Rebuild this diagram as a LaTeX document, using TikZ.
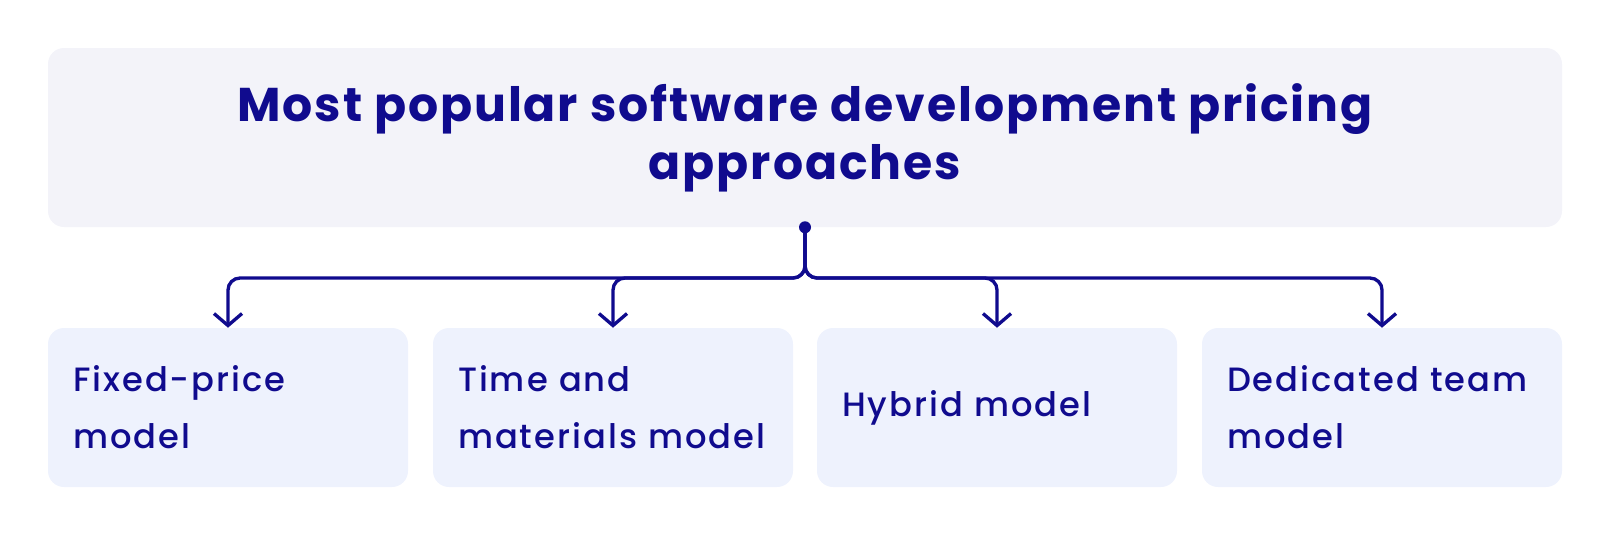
\documentclass[tikz,border=0pt]{standalone}
\usepackage{fontspec}
\setmainfont{Poppins}
\newfontfamily\titlefont{Poppins}[LetterSpace=4,BoldFont={Poppins Bold}]
\newfontfamily\itemfont{Poppins Medium}[LetterSpace=6]
\usetikzlibrary{arrows.meta}
\definecolor{ink}{HTML}{100B8E}
\definecolor{topfill}{HTML}{F3F3F9}
\definecolor{boxfill}{HTML}{EEF2FD}
\tikzset{
  titlebox/.style={fill=topfill, rounded corners=12pt, minimum width=1135.5pt, minimum height=134.25pt, inner sep=0pt, align=center, text=ink, font=\titlefont\fontsize{35.5}{43.5}\selectfont\bfseries},
  itembox/.style={fill=boxfill, rounded corners=12pt, minimum width=270pt, minimum height=119.25pt, inner xsep=18.75pt, inner ysep=0pt, text width=232.5pt, align=left, text=ink, font=\itemfont\fontsize{25.3}{42.75}\selectfont},
  conn/.style={draw=ink, line width=2.5pt, rounded corners=9pt, -{Straight Barb[length=9pt, width=21pt, line width=2.5pt]}},
}
\begin{document}
\begin{tikzpicture}[x=0.75pt, y=-0.75pt]
\useasboundingbox (0,0) rectangle (1610,536);
\node[titlebox] (top) at (805,137.5) {Most popular software development pricing\\approaches};
\node[itembox] (b1) at (228,407.5) {Fixed-price\\model};
\node[itembox] (b2) at (613,407.5) {Time and\\materials model};
\node[itembox] (b3) at (997,407.5) {Hybrid model};
\node[itembox] (b4) at (1382,407.5) {Dedicated team\\model};
\coordinate (split) at (805,278);
\foreach \b in {b1,b2,b3,b4}{
  \draw[conn] (top.south) -- (split) -| (\b.north);
}
\fill[ink] (top.south) circle (4.5pt);
\end{tikzpicture}
\end{document}
